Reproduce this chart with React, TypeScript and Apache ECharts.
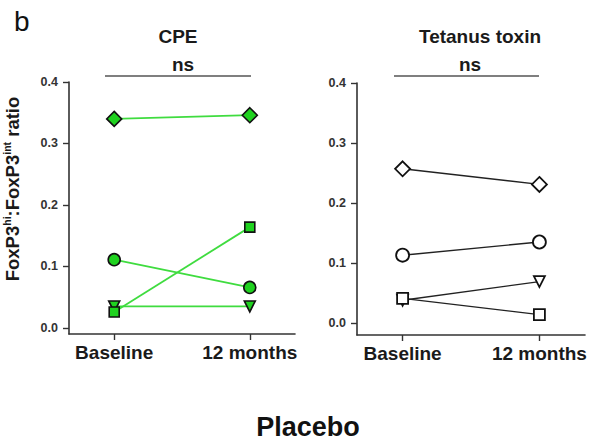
import React, { useEffect, useRef } from "react";
import * as echarts from "echarts";

const categories = ["Baseline", "12 months"];
const yTicks = [0, 0.1, 0.2, 0.3, 0.4];
const cpeDiamond = [0.34, 0.346];
const cpeCircle = [0.111, 0.066];
const cpeTriangle = [0.035, 0.035];
const cpeSquare = [0.026, 0.164];
const tetDiamond = [0.257, 0.231];
const tetCircle = [0.113, 0.135];
const tetTriangle = [0.038, 0.069];
const tetSquare = [0.041, 0.014];

const FONT = "Liberation Sans, Arial, sans-serif";
const TRI_DOWN = "path://M0,0 L10,0 L5,9 Z";

export default function App() {
  const ref = useRef<HTMLDivElement>(null);
  useEffect(() => {
    const chart = echarts.init(ref.current!, null, { renderer: "svg" });
    const xAxisBase = (gridIndex: number) => ({
      type: "value" as const,
      gridIndex,
      min: -1 / 3,
      max: 4 / 3,
      axisLine: { onZero: false, lineStyle: { color: "#333", width: 1.6 } },
      axisTick: { customValues: [0, 1], length: 6, lineStyle: { color: "#333", width: 1.4 } },
      axisLabel: {
        customValues: [0, 1],
        formatter: (v: number) => categories[Math.round(v)] ?? "",
        fontFamily: FONT,
        fontWeight: "bold",
        fontSize: 19,
        color: "#1a1a1a",
        margin: 9,
      },
      splitLine: { show: false },
    });
    const yAxisBase = (gridIndex: number, min: number) => ({
      type: "value" as const,
      gridIndex,
      min,
      max: 0.4,
      axisLine: { show: true, onZero: false, lineStyle: { color: "#333", width: 1.6 } },
      axisTick: { show: true, customValues: yTicks, length: 6, lineStyle: { color: "#333", width: 1.4 } },
      axisLabel: {
        customValues: yTicks,
        formatter: (v: number) => v.toFixed(1),
        fontFamily: FONT,
        fontWeight: "bold",
        fontSize: 12.5,
        color: "#333",
        margin: 11,
      },
      splitLine: { show: false },
    });
    const pts = (arr: number[]) => arr.map((v, i) => [i, v]);
    const greenSeries = (name: string, data: number[], symbol: string, size: number) => ({
      type: "line" as const,
      name,
      xAxisIndex: 0,
      yAxisIndex: 0,
      data: pts(data),
      symbol,
      symbolSize: size,
      lineStyle: { color: "#3fdc3f", width: 1.8 },
      itemStyle: { color: "#1fd21f", borderColor: "#111", borderWidth: 1.6 },
    });
    const whiteSeries = (name: string, data: number[], symbol: string, size: number) => ({
      type: "line" as const,
      name,
      xAxisIndex: 1,
      yAxisIndex: 1,
      data: pts(data),
      symbol,
      symbolSize: size,
      lineStyle: { color: "#222", width: 1.4 },
      itemStyle: { color: "#fff", borderColor: "#111", borderWidth: 1.8 },
    });
    const titleStyle = { fontFamily: FONT, fontWeight: "bold" as const, fontSize: 19, color: "#1a1a1a" };
    chart.setOption({
      animation: false,
      backgroundColor: "#fff",
      grid: [
        { left: 67, top: 82, width: 228, height: 252 },
        { left: 357, top: 83, width: 228, height: 252 },
      ],
      xAxis: [xAxisBase(0), xAxisBase(1)],
      yAxis: [
        {
          ...yAxisBase(0, -0.0098),
          name: "{m|FoxP3}{s|hi}{m|:FoxP3}{s|int}{m| ratio}",
          nameLocation: "middle",
          nameRotate: 90,
          nameGap: 47,
          nameTextStyle: {
            padding: [0, 0, 0, 38],
            rich: {
              m: { fontFamily: FONT, fontWeight: "bold", fontSize: 18.5, color: "#1a1a1a", lineHeight: 21, verticalAlign: "bottom" },
              s: { fontFamily: FONT, fontWeight: "bold", fontSize: 10.5, color: "#1a1a1a", lineHeight: 21, verticalAlign: "top" },
            },
          },
        },
        yAxisBase(1, -0.02),
      ],
      title: [
        { text: "b", left: 9, top: 2, textStyle: { fontFamily: FONT, fontWeight: "normal", fontSize: 28, color: "#111" } },
        { text: "CPE", left: 173, top: 22, textAlign: "center", textStyle: titleStyle },
        { text: "ns", left: 178, top: 50, textAlign: "center", textStyle: titleStyle },
        { text: "Tetanus toxin", left: 475, top: 22, textAlign: "center", textStyle: titleStyle },
        { text: "ns", left: 465, top: 50, textAlign: "center", textStyle: titleStyle },
        { text: "Placebo", left: 303, top: 408, textAlign: "center", textStyle: { fontFamily: FONT, fontWeight: "bold", fontSize: 27, color: "#111" } },
      ],
      graphic: [
        { type: "line", shape: { x1: 105, y1: 76, x2: 251, y2: 76 }, style: { stroke: "#555", lineWidth: 1.6 } },
        { type: "line", shape: { x1: 394, y1: 76, x2: 539, y2: 76 }, style: { stroke: "#555", lineWidth: 1.6 } },
      ],
      series: [
        greenSeries("cpeTriangle", cpeTriangle, TRI_DOWN, 11),
        greenSeries("cpeSquare", cpeSquare, "rect", 10),
        greenSeries("cpeCircle", cpeCircle, "circle", 12),
        greenSeries("cpeDiamond", cpeDiamond, "diamond", 15),
        whiteSeries("tetTriangle", tetTriangle, TRI_DOWN, 11),
        whiteSeries("tetSquare", tetSquare, "rect", 11),
        whiteSeries("tetCircle", tetCircle, "circle", 13),
        whiteSeries("tetDiamond", tetDiamond, "diamond", 15),
      ],
    });
    return () => chart.dispose();
  }, []);
  return (
    <div
      ref={ref}
      style={{ position: "fixed", left: 0, top: 0, width: 600, height: 447, background: "#fff" }}
    />
  );
}
